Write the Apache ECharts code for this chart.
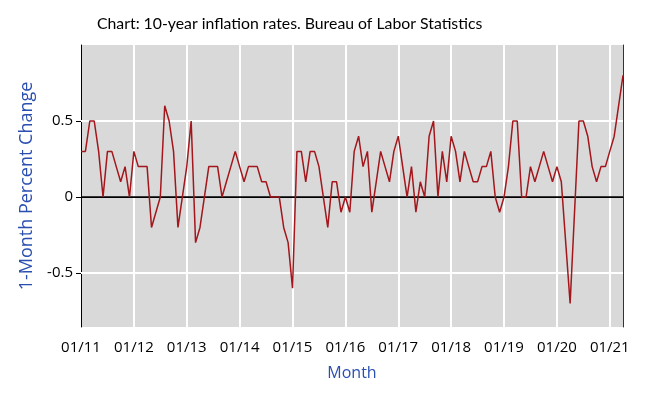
<!DOCTYPE html>
<html><head><meta charset="utf-8">
<script src="https://cdn.jsdelivr.net/npm/echarts@6/dist/echarts.min.js"></script>
<style>html,body{margin:0;padding:0;background:#fff}#c{width:654px;height:398px}</style>
</head><body><div id="c"></div>
<script>
// Monthly CPI percent change, Jan 2011 – Apr 2021
const v2011 = [0.3, 0.3, 0.5, 0.5, 0.3, 0.0, 0.3, 0.3, 0.2, 0.1, 0.2, 0.0];
const v2012 = [0.3, 0.2, 0.2, 0.2, -0.2, -0.1, 0.0, 0.6, 0.5, 0.3, -0.2, 0.0];
const v2013 = [0.2, 0.5, -0.3, -0.2, 0.0, 0.2, 0.2, 0.2, 0.0, 0.1, 0.2, 0.3];
const v2014 = [0.2, 0.1, 0.2, 0.2, 0.2, 0.1, 0.1, 0.0, 0.0, 0.0, -0.2, -0.3];
const v2015 = [-0.6, 0.3, 0.3, 0.1, 0.3, 0.3, 0.2, 0.0, -0.2, 0.1, 0.1, -0.1];
const v2016 = [0.0, -0.1, 0.3, 0.4, 0.2, 0.3, -0.1, 0.1, 0.3, 0.2, 0.1, 0.3];
const v2017 = [0.4, 0.2, 0.0, 0.2, -0.1, 0.1, 0.0, 0.4, 0.5, 0.0, 0.3, 0.1];
const v2018 = [0.4, 0.3, 0.1, 0.3, 0.2, 0.1, 0.1, 0.2, 0.2, 0.3, 0.0, -0.1];
const v2019 = [0.0, 0.2, 0.5, 0.5, 0.0, 0.0, 0.2, 0.1, 0.2, 0.3, 0.2, 0.1];
const v2020 = [0.2, 0.1, -0.3, -0.7, -0.1, 0.5, 0.5, 0.4, 0.2, 0.1, 0.2, 0.2];
const v2021 = [0.3, 0.4, 0.6, 0.8];

const years = ["11","12","13","14","15","16","17","18","19","20","21"];
const monthCodes = ["01","02","03","04","05","06","07","08","09","10","11","12"];
const xTickLabels = ["01/11","01/12","01/13","01/14","01/15","01/16","01/17","01/18","01/19","01/20","01/21"];
const yTickValues = [-0.5, 0, 0.5];

const values = [].concat(v2011, v2012, v2013, v2014, v2015, v2016, v2017, v2018, v2019, v2020, v2021);
const categories = [];
years.forEach(y => monthCodes.forEach(m => { if (categories.length < values.length) categories.push(m + "/" + y); }));

const isTick = (i) => xTickLabels.indexOf(categories[i]) !== -1;

const chart = echarts.init(document.getElementById('c'), null, {renderer: 'canvas'});
chart.setOption({
  animation: false,
  backgroundColor: '#ffffff',
  title: {
    text: 'Chart: 10-year inflation rates. Bureau of Labor Statistics',
    left: 92, top: 11,
    textStyle: {fontFamily: 'Lato', fontSize: 15.8, fontWeight: 'normal', color: '#000'}
  },
  grid: {left: 81, right: 31, top: 45, bottom: 71, show: true, backgroundColor: '#d9d9d9', borderWidth: 0},
  xAxis: {
    type: 'category', data: categories, boundaryGap: false,
    name: 'Month', nameLocation: 'middle', nameGap: 38,
    nameTextStyle: {fontFamily: 'Open Sans', fontSize: 16, color: '#2a4fb0'},
    axisLine: {show: true, lineStyle: {color: '#000', width: 1}},
    axisTick: {show: false},
    axisLabel: {
      interval: (i) => isTick(i), margin: 13,
      fontFamily: 'Open Sans', fontSize: 15, color: '#000'
    },
    splitLine: {show: true, interval: (i) => isTick(i), lineStyle: {color: '#ffffff', width: 2}}
  },
  yAxis: [{
    type: 'value', min: -0.855, max: 1.0,
    name: '1-Month Percent Change', nameLocation: 'middle', nameGap: 30,
    nameTextStyle: {fontFamily: 'Open Sans', fontSize: 18, color: '#2a4fb0'},
    axisLine: {show: true, lineStyle: {color: '#000', width: 1}},
    axisTick: {show: true, customValues: yTickValues, length: 5, lineStyle: {color: '#000'}},
    axisLabel: {
      customValues: yTickValues, margin: 8,
      formatter: (v) => (v === 0 ? '0' : String(v)),
      fontFamily: 'Open Sans', fontSize: 15, color: '#000'
    },
    splitLine: {show: false}
  }, {
    type: 'value', min: -0.855, max: 1.0, position: 'right',
    axisLine: {show: true, lineStyle: {color: '#333', width: 1}},
    axisTick: {show: false}, axisLabel: {show: false}, splitLine: {show: false}
  }],
  series: [{
    type: 'line', data: [], z: 1, silent: true,
    markLine: {
      z: 1, silent: true, symbol: ['none', 'none'], label: {show: false},
      data: [
        {yAxis: 0.5, lineStyle: {color: '#ffffff', width: 2, type: 'solid'}},
        {yAxis: -0.5, lineStyle: {color: '#ffffff', width: 2, type: 'solid'}},
        {yAxis: 0, lineStyle: {color: '#000000', width: 1.5, type: 'solid'}}
      ]
    }
  }, {
    type: 'line', data: values, z: 10, showSymbol: false, symbol: 'none',
    lineStyle: {color: '#a3161b', width: 1.5}
  }]
});
</script></body></html>
